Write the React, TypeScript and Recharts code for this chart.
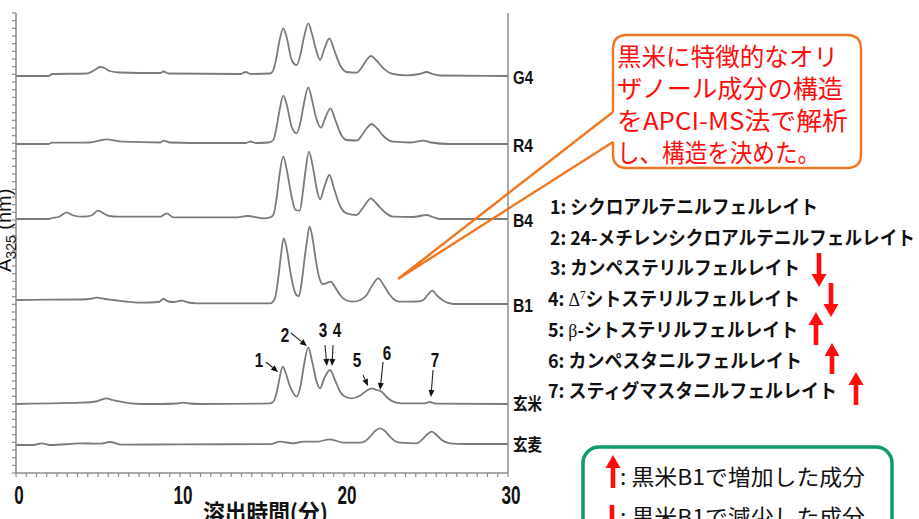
import React from 'react';
import { LineChart, Line, XAxis, YAxis, ReferenceLine, ReferenceDot } from 'recharts';

// Chromatograms (A325), one trace per sample; [retention time (min), signal above baseline]
const traceNames = ['G4', 'R4', 'B4', 'B1', '玄米', '玄麦'];
const traceOffsets = [397, 329, 254, 169, 69, 28];

const traceG4: [number, number][] = [
  [0, 0], [2.0, 0], [2.2, 2], [4.3, 2.5], [4.9, 7], [5.1, 9], [5.4, 8], [5.7, 5], [6.3, 3.5], [8.8, 3], [9.0, 4.5],
  [9.3, 2.5], [13.7, 2], [14.0, 4], [14.3, 2], [15.5, 2.5], [15.69, 6], [15.9, 20], [16.05, 34], [16.3, 47.7],
  [16.5, 39], [16.81, 16], [17.11, 11], [17.35, 22], [17.55, 38], [17.82, 52.7], [18.05, 42], [18.3, 26],
  [18.54, 16], [18.8, 27], [19.11, 37.7], [19.4, 26], [19.76, 11], [20.16, 4], [20.77, 3.3], [21.1, 9],
  [21.4, 16.5], [21.65, 20], [21.95, 16], [22.4, 7.7], [23.0, 2], [23.8, 0.7], [24.6, 2], [25.04, 4], [25.4, 2],
  [25.85, 0.5], [30, 0],
];
const traceR4: [number, number][] = [
  [0, 0], [2.0, 0], [2.2, 1.3], [4.5, 1.5], [5.5, 4.7], [6.5, 2.3], [8.8, 1.5], [9.0, 3.3], [9.4, 1.5], [12, 1],
  [14, 1], [14.3, 2.5], [14.6, 1], [15.4, 1.5], [15.69, 4], [15.9, 18], [16.05, 32], [16.3, 48.3], [16.5, 40],
  [16.81, 17], [17.11, 10.7], [17.35, 22], [17.55, 40], [17.82, 56.7], [18.05, 44], [18.3, 26], [18.6, 16.3],
  [18.85, 26], [19.18, 35.7], [19.45, 25], [19.8, 10], [20.16, 4], [20.8, 3.5], [21.1, 9], [21.4, 16],
  [21.69, 20], [22.0, 16], [22.4, 8], [23.0, 2.3], [24.0, 1.5], [24.84, 3.3], [25.3, 1.5], [26.46, 0], [30, 0],
];
const traceB4: [number, number][] = [
  [0, 0], [2.0, 0], [2.2, 1], [2.6, 2], [3.09, 6.7], [3.5, 3.5], [4.1, 2.3], [4.6, 3.5], [5.0, 8.3], [5.4, 5],
  [5.7, 3], [6.2, 2.3], [8.8, 2.3], [9.19, 5.7], [9.6, 1.7], [13.5, 1.7], [14.1, 3], [15.1, 0.7], [15.5, 1.7],
  [15.69, 4], [15.9, 22], [16.05, 42], [16.3, 62.3], [16.5, 50], [16.81, 22], [17.05, 9], [17.3, 8.3], [17.5, 28],
  [17.65, 48], [17.86, 67.3], [18.1, 52], [18.35, 29], [18.54, 19.7], [18.8, 32], [19.11, 44], [19.4, 30],
  [19.76, 13], [20.16, 5.7], [20.77, 4], [21.1, 10], [21.4, 17], [21.63, 20.7], [21.95, 16], [22.4, 8],
  [23.0, 2.3], [24.2, 2], [25.04, 4], [25.4, 2], [25.85, 0], [30, 0],
];
const traceB1: [number, number][] = [
  [0, 4], [2.0, 4.3], [4.0, 4.5], [4.5, 5], [4.9, 6.3], [5.4, 5], [5.9, 4], [7.6, 1.3], [8.7, 2], [8.98, 5],
  [9.3, 2.5], [9.6, 2], [10.1, 3.3], [10.5, 1.5], [11.0, 0.7], [15.5, 0.7], [15.79, 5.7], [16.0, 27], [16.15, 48],
  [16.32, 65.7], [16.5, 56], [16.71, 34], [16.9, 18], [17.1, 9], [17.26, 8], [17.42, 22], [17.6, 46], [17.75, 64],
  [17.9, 77.3], [18.08, 66], [18.28, 44], [18.48, 27], [18.7, 20], [18.95, 21], [19.19, 22.3], [19.45, 17],
  [19.76, 9], [20.1, 4], [20.57, 2.3], [21.0, 4], [21.38, 9], [21.7, 18], [22.09, 25.7], [22.45, 18], [22.8, 9],
  [23.1, 4], [23.41, 2.3], [24.5, 2.5], [24.84, 4], [25.1, 9], [25.38, 13.3], [25.7, 8], [26.06, 3.3],
  [26.67, 0], [30, 0],
];
const traceGenmai: [number, number][] = [
  [0, 0], [2.17, 0.7], [3.9, 1.3], [4.9, 2.5], [5.49, 5.7], [5.9, 4], [6.34, 2.3], [7.56, 0], [8.8, 0], [9.8, 0.5],
  [10.2, 1.3], [10.6, 0.5], [11.2, 0], [15.5, 0.7], [15.69, 2.3], [15.9, 12], [16.05, 24], [16.26, 37.3],
  [16.45, 31], [16.65, 20], [16.81, 14], [17.11, 7.3], [17.35, 18], [17.55, 38], [17.82, 56.7], [18.05, 43],
  [18.33, 22.3], [18.54, 15.7], [18.8, 26], [19.15, 34], [19.45, 24], [19.76, 12.3], [20.1, 7], [20.47, 5.7],
  [21.0, 8.5], [21.35, 13], [21.69, 15.7], [22.0, 14], [22.3, 12.3], [22.6, 7], [23.0, 2.3], [23.5, 0.7],
  [24.9, 0.7], [25.24, 2], [25.6, 0.3], [30, 0],
];
const traceGenbaku: [number, number][] = [
  [0, 0], [1.06, 0], [1.57, 1.7], [2.07, 0], [3.3, 1], [3.9, 1.7], [5.12, 1.3], [5.73, 3], [6.45, 0.3], [10, 0.7],
  [15.5, 0.8], [16.1, 3.3], [16.9, 1.7], [17.52, 3.3], [18.33, 3.3], [19.15, 5.7], [19.96, 2.3], [20.98, 2.3],
  [21.3, 4], [21.59, 8.3], [21.9, 14], [22.2, 16.7], [22.5, 14], [22.8, 8.3], [23.1, 4], [23.41, 2.3],
  [24.43, 1.7], [24.84, 6.7], [25.1, 11], [25.35, 13.3], [25.65, 10], [25.96, 5], [26.46, 1.7], [27.27, 1],
  [30, 1],
];
const traces = [traceG4, traceR4, traceB4, traceB1, traceGenmai, traceGenbaku];

// Axis ticks
const xTickValues = Array.from({ length: 49 }, (_, i) => i * 0.625);
const xLabelTimes = [0, 10, 20, 30];
const yTickValues = Array.from({ length: 61 }, (_, i) => (i * 460) / 60);

// Peak numbering on the brown rice trace: label point and arrow (data coordinates)
const peakIds = ['1', '2', '3', '4', '5', '6', '7'];
const peakLabelAt: [number, number][] = [
  [14.82, 113], [16.4, 138], [18.72, 143], [19.57, 143], [20.79, 113], [22.62, 120], [25.55, 113],
];
const peakArrows: [number, number, number, number][] = [
  [15.24, 111, 15.98, 101], [16.77, 140, 17.74, 127], [18.84, 128, 18.96, 107], [19.33, 128, 19.27, 107],
  [21.16, 98, 21.46, 87], [22.38, 111, 22.2, 83], [25.43, 103, 25.3, 76],
];

// Compound list and change in black rice B1
const compoundNames = [
  'シクロアルテニルフェルレイト',
  '24-メチレンシクロアルテニルフェルレイト',
  'カンペステリルフェルレイト',
  'シトステリルフェルレイト',
  'β-シトステリルフェルレイト',
  'カンペスタニルフェルレイト',
  'スティグマスタニルフェルレイト',
];
const compoundChange = ['', '', 'down', 'down', 'up', 'up', 'up'];

const calloutLines = ['黒米に特徴的なオリ', 'ザノール成分の構造', 'をAPCI-MS法で解析', 'し、構造を決めた。'];
const keyLines = ['黒米B1で増加した成分', '黒米B1で減少した成分'];

const LAT = "'Liberation Sans', Arial, 'Noto Sans CJK JP', sans-serif";
const JP = "'Noto Sans CJK JP', 'Liberation Sans', sans-serif";
const TRACE = '#7b7b7b';
const AXIS = '#8c8c8c';
const RED = '#ff0d0d';

// x axis: short tick below the axis, number under every 10 min
const TimeTick = (props: any) => {
  const { x, y, payload } = props;
  const s = String(payload.value);
  return (
    <g>
      <line x1={x} y1={y} x2={x} y2={y + 4} stroke={AXIS} strokeWidth={1.2} />
      {xLabelTimes.includes(payload.value) && (
        <text x={x + 3} y={y + 31} textAnchor="middle" fontSize={26} fontWeight="bold" fill="#111"
          fontFamily={LAT} textLength={s.length * 9.5} lengthAdjust="spacingAndGlyphs">{s}</text>
      )}
    </g>
  );
};

// left axis: minor ticks only
const AbsTick = (props: any) => {
  const { x, y } = props;
  return <line x1={x - 4} y1={y} x2={x} y2={y} stroke={AXIS} strokeWidth={1.2} />;
};

const SampleTick = (props: any) => {
  const { x, y, payload } = props;
  const idx = traceOffsets.indexOf(payload.value);
  const name = traceNames[idx] ?? '';
  const cjk = /[^\x00-\x7f]/.test(name);
  return (
    <text x={x} y={y + (cjk ? 6 : 8)} fontSize={cjk ? 17 : 18} fontWeight="bold" fill="#111"
      fontFamily={cjk ? JP : LAT} textLength={cjk ? 29 : 20} lengthAdjust="spacingAndGlyphs">{name}</text>
  );
};

const PeakArrow = (props: any) => {
  const { x1, y1, x2, y2 } = props;
  const a = Math.atan2(y2 - y1, x2 - x1);
  const L = 7, W = 3;
  const bx = x2 - L * Math.cos(a), by = y2 - L * Math.sin(a);
  const px = -Math.sin(a) * W, py = Math.cos(a) * W;
  return (
    <g>
      <line x1={x1} y1={y1} x2={bx} y2={by} stroke="#222" strokeWidth={1.1} />
      <polygon points={`${x2},${y2} ${bx + px},${by + py} ${bx - px},${by - py}`} fill="#111" />
    </g>
  );
};

const BlockArrow = ({ x, tip, tail }: { x: number; tip: number; tail: number }) => {
  const d = tail > tip ? 1 : -1;
  const h = 13 * d;
  const pts = [
    [x, tip], [x + 7.5, tip + h], [x + 2.3, tip + h], [x + 2.3, tail],
    [x - 2.3, tail], [x - 2.3, tip + h], [x - 7.5, tip + h],
  ].map((p) => p.join(',')).join(' ');
  return <polygon points={pts} fill={RED} />;
};

const arrowPlacement: Record<number, { x: number; tip: number; tail: number }> = {
  2: { x: 819, tip: 287, tail: 253 },
  3: { x: 831, tip: 317, tail: 283 },
  4: { x: 816, tip: 312, tail: 345 },
  5: { x: 832, tip: 343, tail: 374 },
  6: { x: 856, tip: 372, tail: 405 },
};
const listWidths = [268, 365, 250, 252, 250, 254, 289];

export default function App() {
  return (
    <div style={{ position: 'absolute', left: 0, top: 0, width: 919, height: 519, overflow: 'hidden', background: '#fff' }}>
      <LineChart width={919} height={519} margin={{ top: 13, right: 0, bottom: 0, left: 0 }}>
        <XAxis type="number" dataKey="t" domain={[0, 30]} ticks={xTickValues} interval={0} height={46}
          tickLine={false} tickSize={0} tickMargin={0} stroke={AXIS} strokeWidth={1.5} tick={<TimeTick />}
          allowDataOverflow />
        <YAxis yAxisId="left" type="number" domain={[0, 460]} ticks={yTickValues} interval={0} width={16}
          tickLine={false} tickSize={0} tickMargin={0} tick={<AbsTick />} stroke={AXIS} strokeWidth={1.5}
          allowDataOverflow />
        <YAxis yAxisId="right" orientation="right" type="number" domain={[0, 460]} ticks={traceOffsets}
          interval={0} width={411} tickLine={false} tickSize={0} tickMargin={5} tick={<SampleTick />}
          stroke={AXIS} strokeWidth={1.5} allowDataOverflow />
        {traces.map((tr, i) => (
          <Line key={traceNames[i]} name={traceNames[i]} yAxisId="left" type="monotone" dataKey="v"
            data={tr.map(([t, v]) => ({ t, v: v + traceOffsets[i] }))} dot={false} activeDot={false}
            stroke={TRACE} strokeWidth={1.8} isAnimationActive={false} />
        ))}
        {peakArrows.map(([xa, ya, xb, yb], i) => (
          <ReferenceLine key={'pa' + i} yAxisId="left" segment={[{ x: xa, y: ya }, { x: xb, y: yb }]}
            shape={(p: any) => <PeakArrow {...p} />} ifOverflow="visible" />
        ))}
        {peakLabelAt.map(([px, py], i) => (
          <ReferenceDot key={'pl' + i} yAxisId="left" x={px} y={py} r={0} ifOverflow="visible"
            shape={(p: any) => (
              <text x={p.cx} y={p.cy + 7} textAnchor="middle" fontSize={20} fontWeight="bold" fill="#111"
                fontFamily={LAT} textLength={8.5} lengthAdjust="spacingAndGlyphs">{peakIds[i]}</text>
            )} />
        ))}
      </LineChart>

      <svg width={919} height={519} style={{ position: 'absolute', left: 0, top: 0, pointerEvents: 'none' }}>
        {/* axis titles */}
        <text transform="translate(11,272) rotate(-90)" fontSize={20} fill="#111" fontFamily={LAT}>
          A<tspan fontSize={14} dy={5}>325</tspan><tspan dy={-5}> (nm)</tspan>
        </text>
        <text x={203} y={521} fontSize={23} fontWeight="bold" fill="#111" fontFamily={JP}
          textLength={125} lengthAdjust="spacingAndGlyphs">溶出時間(分)</text>

        {/* callout */}
        <rect x={613} y={35} width={248} height={133} rx={14} fill="#fff" />
        <path d="M613,112 L613,49 Q613,35 627,35 L847,35 Q861,35 861,49 L861,154 Q861,168 847,168 L627,168 Q613,168 613,154 L613,142"
          fill="none" stroke="#f2761f" strokeWidth={2.4} />
        <path d="M613,112 L398,279 L613,142" fill="none" stroke="#f2761f" strokeWidth={2.4} strokeLinejoin="miter" />
        {calloutLines.map((s, i) => (
          <text key={s} x={617} y={66 + i * 32} fontSize={24.5} fill={RED} fontFamily={JP}
            textLength={[221, 226, 231, 203][i]} lengthAdjust="spacingAndGlyphs">{s}</text>
        ))}

        {/* compound list */}
        {compoundNames.map((s, i) => (
          <text key={s} x={i < 3 ? 550 : 548} y={214 + i * 30.7} fontSize={19} fontWeight="bold" fill="#111"
            fontFamily={JP} textLength={listWidths[i]} lengthAdjust="spacingAndGlyphs">
            {`${i + 1}: `}
            {i === 3 ? (
              <>
                <tspan fontFamily="'Liberation Serif', serif" fontWeight="normal">Δ</tspan>
                <tspan fontSize={12} dy={-7} fontFamily="'Liberation Serif', serif" fontWeight="normal">7</tspan>
                <tspan dy={7}>{s}</tspan>
              </>
            ) : i === 4 ? (
              <>
                <tspan fontFamily="'Liberation Serif', serif" fontWeight="normal">β</tspan>
                <tspan>{s.slice(1)}</tspan>
              </>
            ) : (
              s
            )}
          </text>
        ))}
        {compoundChange.map((c, i) => (c ? <BlockArrow key={'ba' + i} {...arrowPlacement[i]} /> : null))}

        {/* key box */}
        <rect x={583} y={447} width={309} height={120} rx={16} fill="#fff" stroke="#0f9a70" strokeWidth={3.5} />
        <BlockArrow x={613} tip={455} tail={488} />
        <BlockArrow x={612} tip={538} tail={505} />
        {keyLines.map((s, i) => (
          <text key={s} x={620} y={485 + i * 40} fontSize={22} fill="#111" fontFamily={JP}
            textLength={245} lengthAdjust="spacingAndGlyphs">{`: ${s}`}</text>
        ))}
      </svg>
    </div>
  );
}
